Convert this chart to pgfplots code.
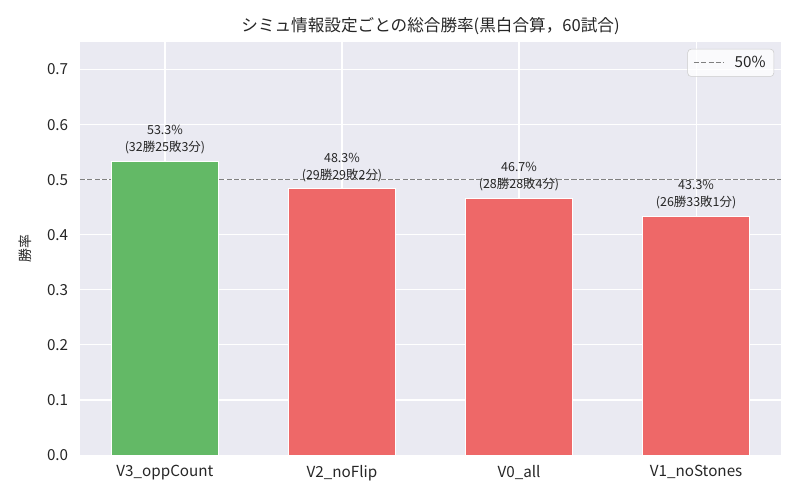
\documentclass[border=0pt]{standalone}
\usepackage{fontspec}
\setmainfont{Noto Sans CJK JP}
\usepackage{pgfplots}
\pgfplotsset{compat=1.18}
\definecolor{bg}{HTML}{EAEAF2}
\definecolor{txt}{RGB}{38,38,38}
\definecolor{barg}{RGB}{99,185,102}
\definecolor{barr}{RGB}{238,104,104}
\begin{document}
\begin{tikzpicture}
\path[use as bounding box] (-57.8pt,-32.5pt) rectangle (520.3pt,328.85pt);
\begin{axis}[
  at={(0,0)}, anchor=south west,
  scale only axis, width=506.6pt, height=298.5pt,
  xmin=-0.48, xmax=3.48, ymin=0, ymax=0.75,
  axis background/.style={fill=bg},
  axis line style={draw=none},
  major tick length=0pt,
  xtick={0,1,2,3},
  xticklabels={V3\_oppCount, V2\_noFlip, V0\_all, V1\_noStones},
  ytick={0,0.1,0.2,0.3,0.4,0.5,0.6,0.7},
  /pgf/number format/assume math mode=true,
  yticklabel style={/pgf/number format/fixed, /pgf/number format/fixed zerofill, /pgf/number format/precision=1, xshift=-5pt},
  tick label style={font=\fontsize{11}{13}\selectfont, text=txt},
  xticklabel style={yshift=-4pt},
  grid=major, major grid style={white, line width=0.8pt},
  title={シミュ情報設定ごとの総合勝率(黒白合算，60試合)},
  title style={font=\fontsize{12}{14}\selectfont, text=txt, at={(0.5,1)}, anchor=south, yshift=-4pt},
  ylabel={勝率},
  ylabel style={font=\fontsize{10}{12}\selectfont, text=txt, at={(axis description cs:-0.0785,0.5)}, anchor=center},
  legend style={at={(1,1)}, anchor=north east, xshift=-5pt, yshift=-5pt,
    fill=white, fill opacity=0.8, text opacity=1, draw=black!20, rounded corners=2.5pt,
    font=\fontsize{11}{13}\selectfont, text=txt, inner xsep=4pt, inner ysep=3pt,
    /tikz/every odd column/.append style={column sep=5pt}},
  legend cell align=left,
  legend image code/.code={\draw[#1] (0pt,0pt) -- (22pt,0pt);},
]
\addplot[gray, line width=0.9pt, dash pattern=on 3.7pt off 1.6pt] coordinates {(-0.48,0.5) (3.48,0.5)};
\addlegendentry{50\%}
\addplot[ybar, bar width=0.6, bar shift=0pt, fill=barg, draw=white, line width=0.7pt, forget plot]
  coordinates {(0,0.5333)};
\addplot[ybar, bar width=0.6, bar shift=0pt, fill=barr, draw=white, line width=0.7pt, forget plot]
  coordinates {(1,0.4833) (2,0.4667) (3,0.4333)};
\begin{scope}[every node/.style={anchor=south, align=center, inner sep=0pt, yshift=5pt, font=\fontsize{9}{12.3}\selectfont, text=txt}]
\node at (axis cs:0,0.5333) {53.3\%\\(32勝25敗3分)};
\node at (axis cs:1,0.4833) {48.3\%\\(29勝29敗2分)};
\node at (axis cs:2,0.4667) {46.7\%\\(28勝28敗4分)};
\node at (axis cs:3,0.4333) {43.3\%\\(26勝33敗1分)};
\end{scope}
\end{axis}
\end{tikzpicture}
\end{document}
